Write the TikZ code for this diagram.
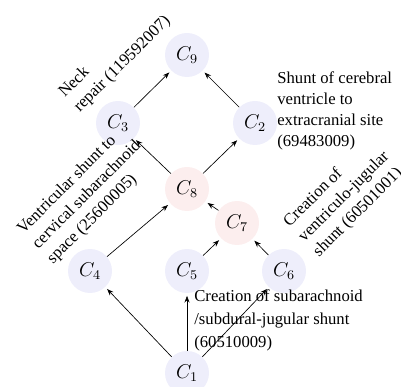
\documentclass[tikz,border=0pt]{standalone}
\usepackage[no-math]{fontspec}
\setmainfont{Liberation Serif}
\usetikzlibrary{arrows.meta}
\definecolor{nblue}{RGB}{238,238,251}
\definecolor{nred}{RGB}{252,238,238}
\begin{document}
\begin{tikzpicture}[x=0.6pt,y=-0.6pt,
  cnode/.style={circle,fill=nblue,minimum size=26.4pt,inner sep=0pt,font=\large},
  rnode/.style={cnode,fill=nred},
  arr/.style={-{Stealth[length=4pt,width=3pt]},shorten >=1.5pt,line width=0.4pt},
  lbl/.style={align=left,inner sep=0pt,font=\fontsize{10}{12.6}\selectfont}]
\useasboundingbox (0,0) rectangle (401,387);
\node[cnode] (c9) at (187,55) {$C_9$};
\node[cnode] (c3) at (118,123) {$C_3$};
\node[cnode] (c2) at (255,123) {$C_2$};
\node[rnode] (c8) at (187,189) {$C_8$};
\node[rnode] (c7) at (237,223) {$C_7$};
\node[cnode] (c4) at (90,271) {$C_4$};
\node[cnode] (c5) at (187,271) {$C_5$};
\node[cnode] (c6) at (284,271) {$C_6$};
\node[cnode] (c1) at (187,373) {$C_1$};
\draw[arr] (c1) -- (c4);
\draw[arr] (c1) -- (c5);
\draw[arr] (c1) -- (c6);
\draw[arr] (c4) -- (c8);
\draw[arr] (c5) -- (c7);
\draw[arr] (c6) -- (c7);
\draw[arr] (c7) -- (c8);
\draw[arr] (c8) -- (c3);
\draw[arr] (c8) -- (c2);
\draw[arr] (c3) -- (c9);
\draw[arr] (c2) -- (c9);
\node[lbl,rotate=45] (l1) at (115,57) {Neck\\repair (119592007)};
\node[lbl,anchor=west] (l2) at (277,111) {Shunt of cerebral\\ventricle to\\extracranial site\\(69483009)};
\node[lbl,rotate=45] (l3) at (87,195) {Ventricular shunt to\\cervical subarachnoid\\space (25600005)};
\node[lbl,rotate=45] (l4) at (344,197) {Creation of\\ventriculo-jugular\\shunt (60501001)};
\node[lbl,anchor=west,font=\fontsize{10}{13.8}\selectfont] (l5) at (194,320) {Creation of subarachnoid\\/subdural-jugular shunt\\(60510009)};
\end{tikzpicture}
\end{document}
